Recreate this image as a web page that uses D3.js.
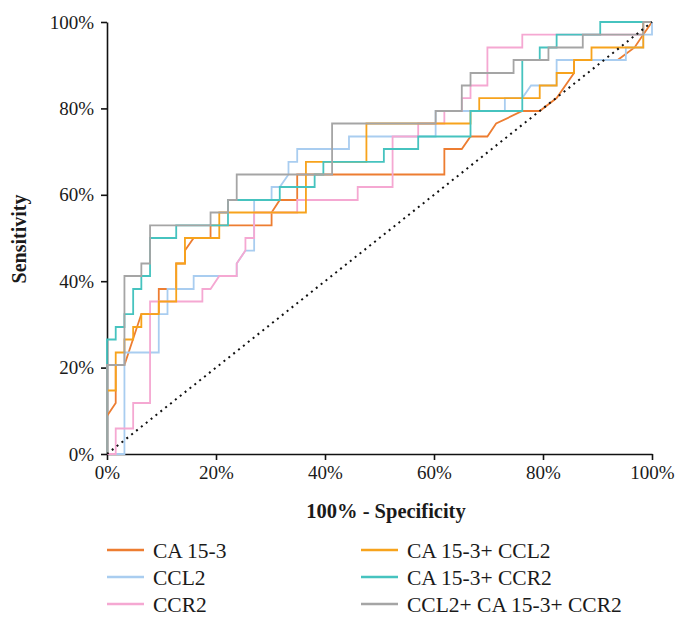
<!DOCTYPE html>
<html>
<head>
<meta charset="utf-8">
<script src="https://cdn.jsdelivr.net/npm/d3@7"></script>
<style>
  body { margin: 0; background: #fff; }
  text { font-family: "Liberation Serif", "DejaVu Serif", serif; fill: #1a1a1a; }
</style>
</head>
<body>
<div id="chart"></div>
<script>
// ROC curves: [100% - specificity, sensitivity] in percent
var ca153 = [[0,0],[0,8.8],[1.6,11.8],[1.6,20.6],[3.2,20.6],[6.3,32.4],[9.5,32.4],[9.5,38.2],[12.7,38.2],[12.7,44.1],
  [14.3,44.1],[14.3,47.1],[15.9,50],[19,50],[19,52.9],[30.2,52.9],[30.2,55.9],[31.7,58.8],[34.9,58.8],[34.9,64.7],
  [61.9,64.7],[61.9,70.6],[65.1,70.6],[66.7,73.5],[69.8,73.5],[71.4,76.5],[76.2,79.4],[79.4,79.4],[82.5,82.4],
  [85.7,88.2],[85.7,91.2],[93.7,91.2],[96.8,94.1],[98.4,97.1],[100,100]];

var ccl2 = [[0,0],[3.2,0],[3.2,23.5],[9.5,23.5],[9.5,32.4],[11.1,32.4],[11.1,38.2],[15.9,38.2],[15.9,41.2],[23.8,41.2],
  [23.8,44.1],[25.4,47.1],[27,47.1],[27,58.8],[30.2,58.8],[30.2,61.8],[31.7,61.8],[33.3,64.7],[33.3,67.6],[34.9,67.6],
  [34.9,70.6],[44.4,70.6],[44.4,73.5],[60.3,73.5],[60.3,79.4],[73,79.4],[73,82.4],[76.2,82.4],[77.8,85.3],[82.5,85.3],
  [82.5,91.2],[95.2,91.2],[95.2,94.1],[98.4,94.1],[98.4,97.1],[100,97.1],[100,100]];

var ccr2 = [[0,0],[1.6,0],[1.6,5.9],[4.8,5.9],[4.8,11.8],[7.9,11.8],[7.9,35.3],[17.5,35.3],[17.5,38.2],[19,38.2],
  [20.6,41.2],[23.8,41.2],[23.8,44.1],[25.4,47.1],[25.4,50],[27,50],[27,55.9],[34.9,55.9],[34.9,58.8],[46,58.8],
  [46,61.8],[52.4,61.8],[52.4,73.5],[57.1,73.5],[57.1,76.5],[61.9,76.5],[61.9,79.4],[65.1,79.4],[65.1,82.4],
  [66.7,82.4],[66.7,85.3],[69.8,85.3],[69.8,94.1],[76.2,94.1],[76.2,97.1],[98.4,97.1],[98.4,100],[100,100]];

var ca153Ccl2 = [[0,0],[0,14.7],[1.6,14.7],[1.6,23.5],[3.2,23.5],[3.2,26.5],[4.8,26.5],[4.8,29.4],[6.3,29.4],[6.3,32.4],
  [9.5,32.4],[9.5,35.3],[12.7,35.3],[12.7,44.1],[14.3,44.1],[14.3,50],[20.6,50],[20.6,55.9],[36.5,55.9],[36.5,67.6],
  [47.6,67.6],[47.6,76.5],[66.7,76.5],[66.7,79.4],[68.3,79.4],[68.3,82.4],[79.4,82.4],[79.4,85.3],[82.5,85.3],
  [82.5,88.2],[85.7,88.2],[85.7,91.2],[88.9,91.2],[88.9,94.1],[98.4,94.1],[98.4,100],[100,100]];

var ca153Ccr2 = [[0,0],[0,26.5],[1.6,26.5],[1.6,29.4],[3.2,29.4],[3.2,32.4],[4.8,32.4],[4.8,38.2],[6.3,38.2],[6.3,41.2],
  [7.9,41.2],[7.9,50],[12.7,50],[12.7,52.9],[22.2,52.9],[22.2,58.8],[31.7,58.8],[31.7,61.8],[38.1,61.8],[38.1,64.7],
  [39.7,64.7],[39.7,67.6],[50.8,67.6],[50.8,70.6],[57.1,70.6],[57.1,73.5],[66.7,73.5],[66.7,79.4],[76.2,79.4],
  [76.2,91.2],[79.4,91.2],[79.4,94.1],[82.5,94.1],[82.5,97.1],[90.5,97.1],[90.5,100],[100,100]];

var allThree = [[0,0],[0,20.6],[3.2,20.6],[3.2,41.2],[6.3,41.2],[6.3,44.1],[7.9,44.1],[7.9,52.9],[19,52.9],[19,55.9],
  [22.2,55.9],[22.2,58.8],[23.8,58.8],[23.8,64.7],[41.3,64.7],[41.3,76.5],[60.3,76.5],[60.3,79.4],[65.1,79.4],
  [65.1,85.3],[66.7,85.3],[66.7,88.2],[74.6,88.2],[74.6,91.2],[81,91.2],[81,94.1],[87.3,94.1],[87.3,97.1],
  [98.4,97.1],[98.4,100],[100,100]];

var seriesNames = ["CA 15-3", "CCL2", "CCR2", "CA 15-3+ CCL2", "CA 15-3+ CCR2", "CCL2+ CA 15-3+ CCR2"];
var seriesData = [ca153, ccl2, ccr2, ca153Ccl2, ca153Ccr2, allThree];
var colors = ["#ed7d31", "#a9cdf0", "#f5a8d2", "#f7a31c", "#46c3bf", "#a5a5a5"];
var ticks = [0, 20, 40, 60, 80, 100];

var width = 686, height = 630;
var svg = d3.select("#chart").append("svg")
  .attr("width", width)
  .attr("height", height);

var x = d3.scaleLinear().domain([0, 100]).range([107, 652]);
var y = d3.scaleLinear().domain([0, 100]).range([454, 22]);

// axes
svg.append("g")
  .attr("transform", "translate(107,0)")
  .call(d3.axisLeft(y).tickValues(ticks).tickFormat(function(d) { return d + "%"; })
    .tickSize(6).tickSizeOuter(0).tickPadding(7));

svg.append("g")
  .attr("transform", "translate(0,454)")
  .call(d3.axisBottom(x).tickValues(ticks).tickFormat(function(d) { return d + "%"; })
    .tickSize(6).tickSizeOuter(0).tickPadding(6));

svg.selectAll(".domain, .tick line").attr("stroke", "#111").attr("stroke-width", 1.6);
svg.selectAll(".tick text")
  .style("font-family", "Liberation Serif")
  .style("font-size", "19px")
  .attr("fill", "#1a1a1a");

// curves
var line = d3.line()
  .x(function(d) { return x(d[0]); })
  .y(function(d) { return y(d[1]); });

svg.selectAll(".roc")
  .data(seriesData)
  .enter()
  .append("path")
  .attr("class", "roc")
  .attr("d", line)
  .attr("fill", "none")
  .attr("stroke", function(d, i) { return colors[i]; })
  .attr("stroke-width", 1.8);

// reference diagonal
svg.append("path")
  .attr("d", line([[0, 0], [100, 100]]))
  .attr("fill", "none")
  .attr("stroke", "#111")
  .attr("stroke-width", 2)
  .attr("stroke-dasharray", "2,4.2");

// axis titles
svg.append("text")
  .attr("x", 386)
  .attr("y", 518)
  .attr("text-anchor", "middle")
  .style("font-size", "20.5px")
  .style("font-weight", "bold")
  .text("100% - Specificity");

svg.append("text")
  .attr("transform", "translate(26,239) rotate(-90)")
  .attr("text-anchor", "middle")
  .style("font-size", "20px")
  .style("font-weight", "bold")
  .text("Sensitivity");

// legend
var legend = svg.selectAll(".legend")
  .data(seriesNames)
  .enter()
  .append("g")
  .attr("class", "legend")
  .attr("transform", function(d, i) {
    var col = i < 3 ? 0 : 1;
    var row = i % 3;
    return "translate(" + (col === 0 ? 107 : 361) + "," + (550 + row * 27) + ")";
  });

legend.append("line")
  .attr("x1", 0).attr("x2", 37)
  .attr("stroke", function(d, i) { return colors[i]; })
  .attr("stroke-width", 2.5);

legend.append("text")
  .attr("x", 46)
  .attr("dy", "0.35em")
  .style("font-size", "21.5px")
  .text(function(d) { return d; });
</script>
</body>
</html>
